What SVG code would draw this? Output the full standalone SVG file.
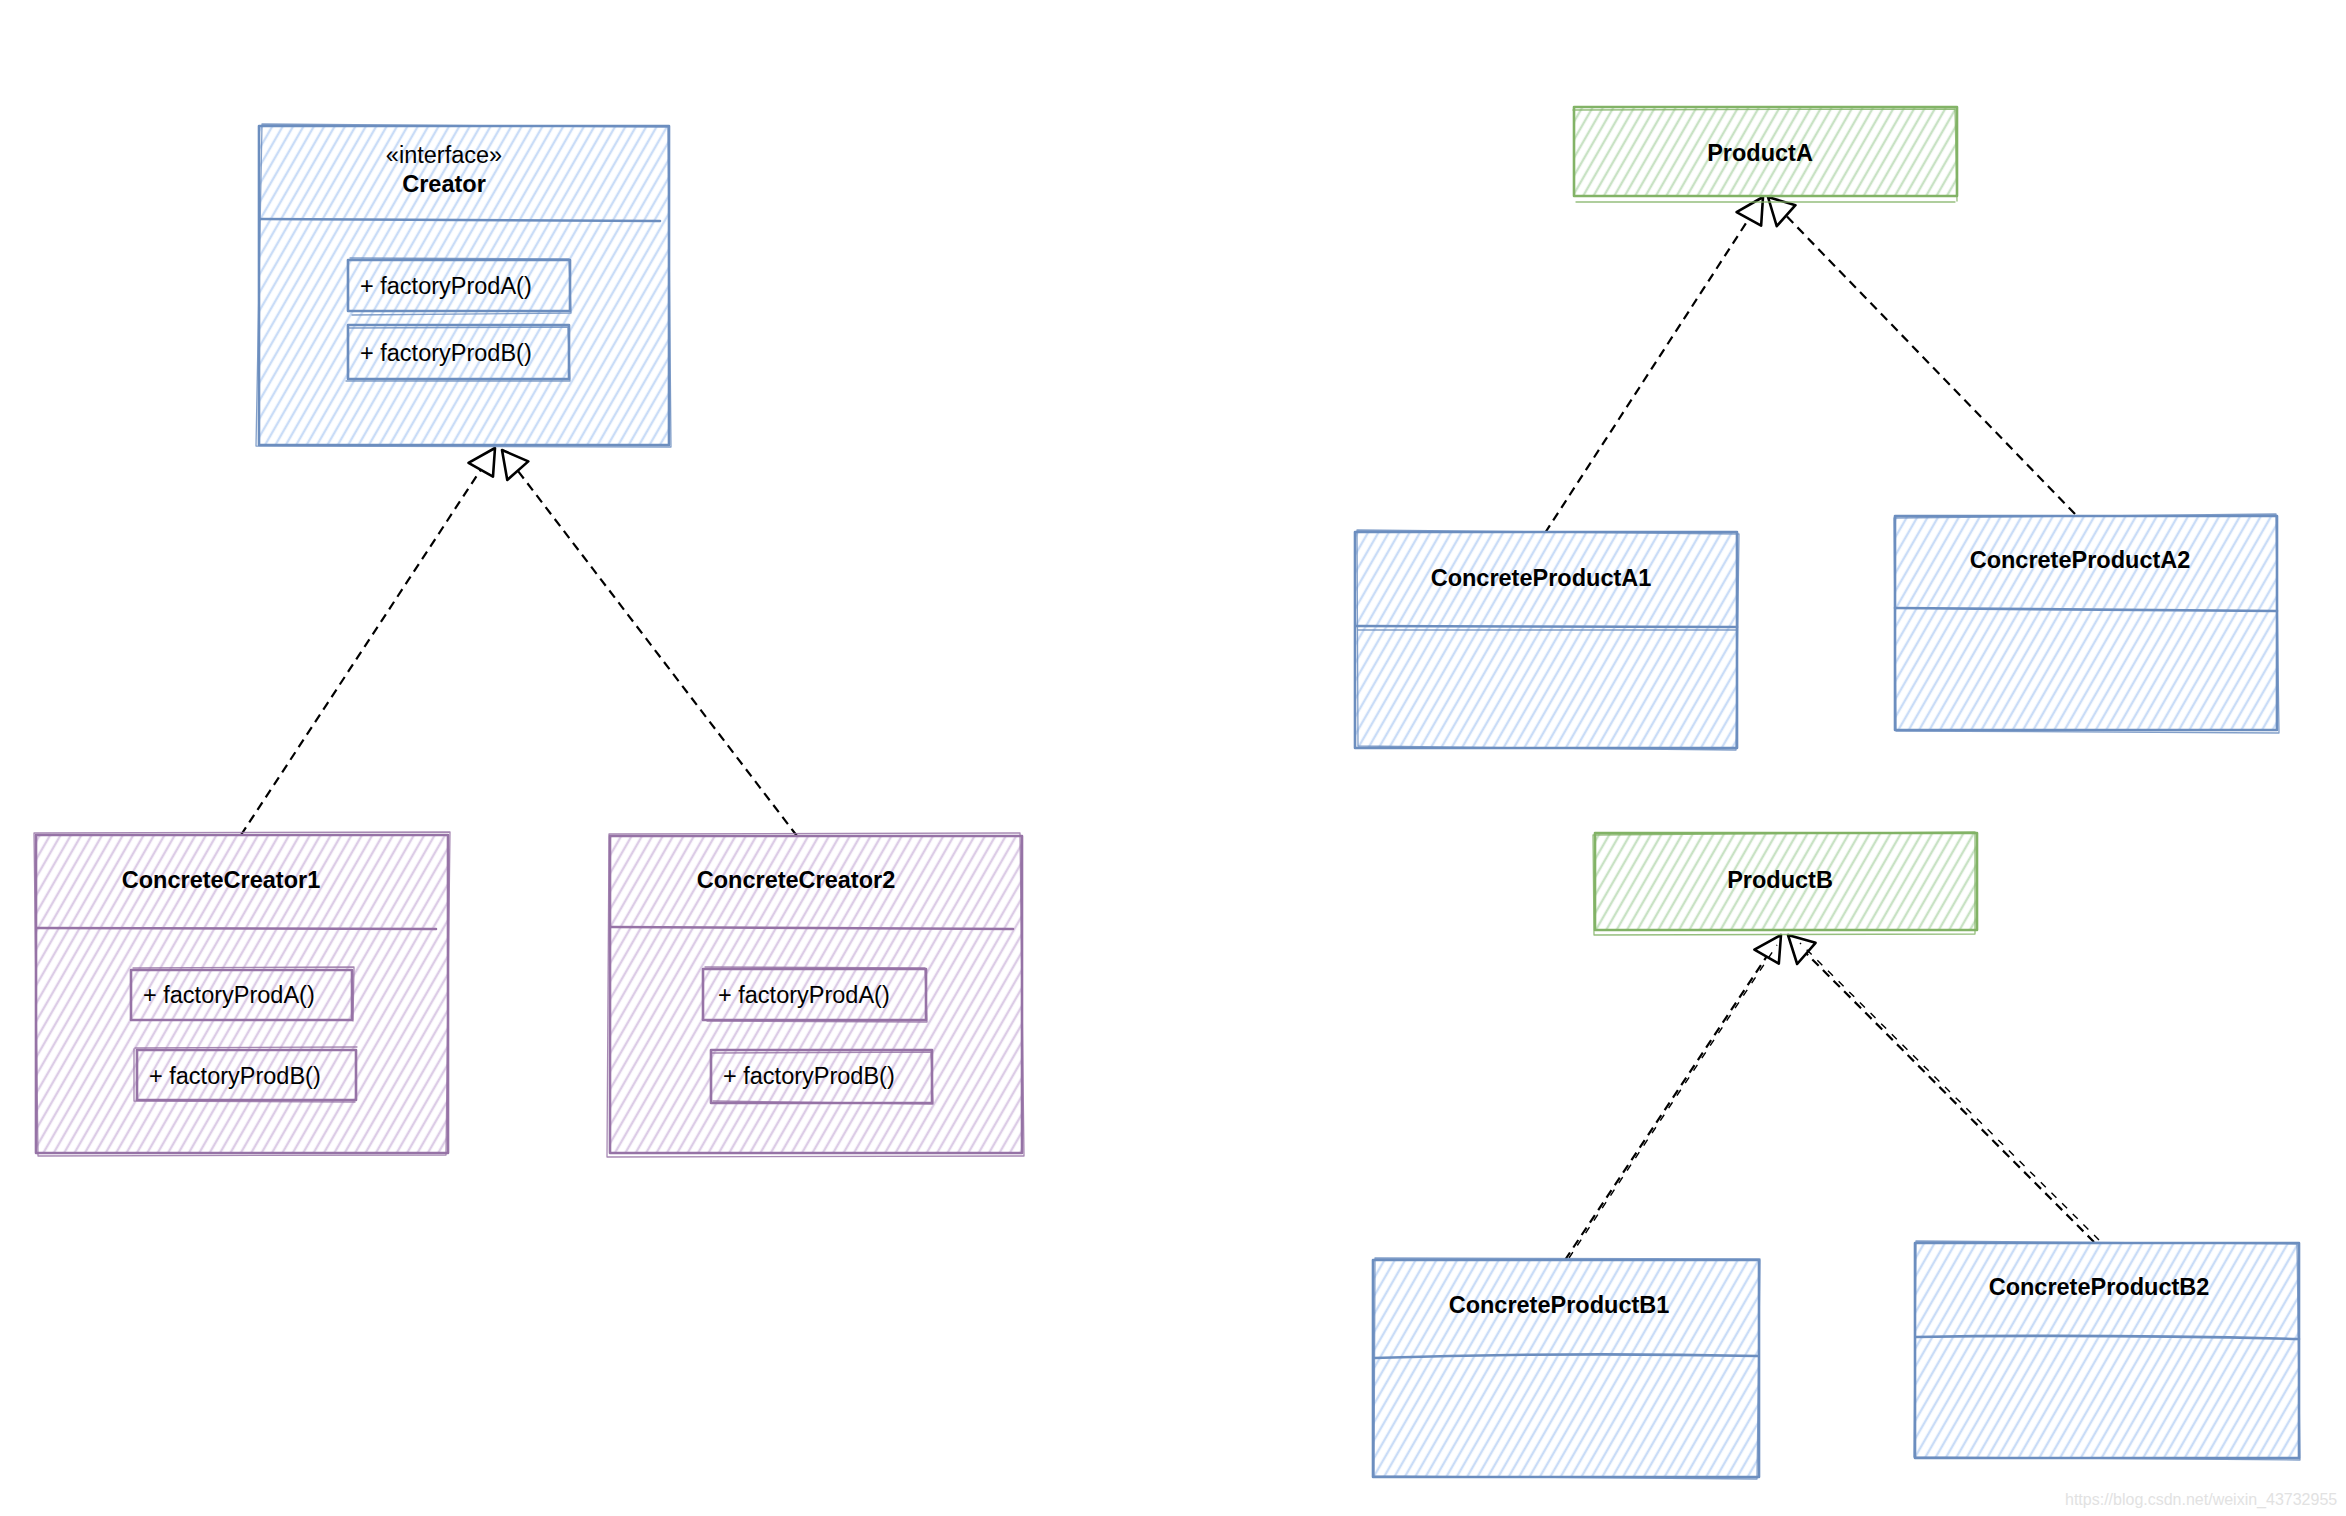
<svg xmlns="http://www.w3.org/2000/svg" width="2346" height="1516" viewBox="0 0 2346 1516">
<style>
.t{font-family:"Liberation Sans",Arial,Helvetica,sans-serif;font-size:23.5px;fill:#000}
.b{font-weight:bold}
.c{text-anchor:middle}
.sb{stroke:#6c8ebf;fill:none;stroke-width:2.6;stroke-linejoin:round;stroke-linecap:round}
.sp{stroke:#9673a6;fill:none;stroke-width:2.6;stroke-linejoin:round;stroke-linecap:round}
.sg{stroke:#82b366;fill:none;stroke-width:2.6;stroke-linejoin:round;stroke-linecap:round}
.s2{stroke-width:1.3;opacity:0.85}
.fb{fill:url(#hb)}
.fp{fill:url(#hp)}
.fg{fill:url(#hg)}
.edge{fill:none;stroke:#000;stroke-width:2.2;stroke-dasharray:9 6;marker-end:url(#tri)}
.edge2{fill:none;stroke:#000;stroke-width:1.4;stroke-dasharray:7 8}
.wm{font-family:"Liberation Sans",Arial,sans-serif;font-size:16px;fill:#e2e2e2}
</style>
<defs>
<pattern id="hb" width="9" height="9" patternUnits="userSpaceOnUse" patternTransform="rotate(30)">
<rect width="9" height="9" fill="#fff"/>
<line x1="2" y1="0" x2="2" y2="9" stroke="#c9dcf7" stroke-width="2.4"/>
</pattern>
<pattern id="hp" width="9" height="9" patternUnits="userSpaceOnUse" patternTransform="rotate(30)">
<rect width="9" height="9" fill="#fff"/>
<line x1="2" y1="0" x2="2" y2="9" stroke="#dccce6" stroke-width="2.4"/>
</pattern>
<pattern id="hg" width="9" height="9" patternUnits="userSpaceOnUse" patternTransform="rotate(30)">
<rect width="9" height="9" fill="#fff"/>
<line x1="2" y1="0" x2="2" y2="9" stroke="#c8e2c4" stroke-width="2.4"/>
</pattern>
<marker id="tri" markerUnits="userSpaceOnUse" viewBox="-32 -18 36 36" markerWidth="36" markerHeight="36" refX="0" refY="0" orient="auto">
<path d="M0,0 L-27,-14 L-25,14 Z" fill="#fff" stroke="#000" stroke-width="2.6" stroke-linejoin="round" stroke-dasharray="none"/>
</marker>
</defs>

<g id="connectors">
<path class="edge" d="M241,835 L495,448"/>
<path class="edge" d="M797,836 L502,450"/>
<path class="edge" d="M1545,533 L1763,197"/>
<path class="edge" d="M2075,514 L1768,197"/>
<path class="edge" d="M1565,1260 L1781,935"/>
<path class="edge" d="M2094,1242 L1788,935"/>
<path class="edge2" d="M1569,1258 L1777,945"/>
<path class="edge2" d="M2099,1240 L1800,943"/>
</g>

<g id="Creator">
<rect class="fb" x="259" y="126" width="410" height="319"/>
<rect class="sb" x="259" y="126" width="410" height="319"/>
<path class="sb s2" d="M262,124 L668,127 L671,447 L256,446 Z"/>
<path class="sb" d="M260,219 L660,221"/>
<text class="t c" x="444" y="163">«interface»</text>
<text class="t b c" x="444" y="192">Creator</text>
<g id="Creator-m1">
<rect class="fb" x="348" y="260" width="222" height="51"/>
<rect class="sb" x="348" y="260" width="222" height="51"/>
<path class="sb s2" d="M350,258 L569,259 L571,313 L352,315"/>
<text class="t" x="360" y="294">+ factoryProdA()</text>
</g>
<g id="Creator-m2">
<rect class="fb" x="348" y="325" width="221" height="54"/>
<rect class="sb" x="348" y="325" width="221" height="54"/>
<path class="sb s2" d="M349,328 L568,327 L570,381 L346,381"/>
<text class="t" x="360" y="361">+ factoryProdB()</text>
</g>
</g>

<g id="ConcreteCreator1">
<rect class="fp" x="36" y="835" width="412" height="318"/>
<rect class="sp" x="36" y="835" width="412" height="318"/>
<path class="sp s2" d="M34,833 L450,832 L446,1155 L38,1156 Z"/>
<path class="sp" d="M37,928 L436,929"/>
<text class="t b c" x="221" y="888">ConcreteCreator1</text>
<g id="CC1-m1">
<rect class="fp" x="131" y="970" width="221" height="50"/>
<rect class="sp" x="131" y="970" width="221" height="50"/>
<path class="sp s2" d="M133,968 L354,967 L353,1021"/>
<text class="t" x="143" y="1003">+ factoryProdA()</text>
</g>
<g id="CC1-m2">
<rect class="fp" x="137" y="1050" width="219" height="50"/>
<rect class="sp" x="137" y="1050" width="219" height="50"/>
<path class="sp s2" d="M134,1049 L134,1101 L355,1102 M135,1048 L357,1047"/>
<text class="t" x="149" y="1084">+ factoryProdB()</text>
</g>
</g>

<g id="ConcreteCreator2">
<rect class="fp" x="610" y="836" width="412" height="317"/>
<rect class="sp" x="610" y="836" width="412" height="317"/>
<path class="sp s2" d="M609,834 L1020,833 L1024,1156 L607,1157 Z"/>
<path class="sp" d="M611,927 L1013,929"/>
<text class="t b c" x="796" y="888">ConcreteCreator2</text>
<g id="CC2-m1">
<rect class="fp" x="703" y="969" width="223" height="51"/>
<rect class="sp" x="703" y="969" width="223" height="51"/>
<path class="sp s2" d="M705,967 L925,968 L927,1022 L707,1021"/>
<text class="t" x="718" y="1003">+ factoryProdA()</text>
</g>
<g id="CC2-m2">
<rect class="fp" x="711" y="1050" width="221" height="53"/>
<rect class="sp" x="711" y="1050" width="221" height="53"/>
<path class="sp s2" d="M712,1053 L931,1052 L933,1104 L713,1101"/>
<text class="t" x="723" y="1084">+ factoryProdB()</text>
</g>
</g>

<g id="ProductA">
<rect class="fg" x="1574" y="107" width="383" height="89"/>
<rect class="sg" x="1574" y="107" width="383" height="89"/>
<path class="sg s2" d="M1573,110 L1955,109 L1957,201 M1576,202 L1955,202"/>
<text class="t b c" x="1760" y="161">ProductA</text>
</g>

<g id="ConcreteProductA1">
<rect class="fb" x="1355" y="532" width="382" height="216"/>
<rect class="sb" x="1355" y="532" width="382" height="216"/>
<path class="sb s2" d="M1357,530 L1739,534 L1736,750 L1358,746 Z"/>
<path class="sb" d="M1356,626 L1737,627"/>
<path class="sb s2" d="M1358,630 L1736,630"/>
<text class="t b c" x="1541" y="586">ConcreteProductA1</text>
</g>

<g id="ConcreteProductA2">
<rect class="fb" x="1895" y="516" width="382" height="214"/>
<rect class="sb" x="1895" y="516" width="382" height="214"/>
<path class="sb s2" d="M1894,518 L2276,514 L2279,733 L1896,731 Z"/>
<path class="sb" d="M1895,608 L2277,611"/>
<text class="t b c" x="2080" y="568">ConcreteProductA2</text>
</g>

<g id="ProductB">
<rect class="fg" x="1595" y="833" width="382" height="97"/>
<rect class="sg" x="1595" y="833" width="382" height="97"/>
<path class="sg s2" d="M1593,835 L1975,832 L1975,934 L1594,935 Z"/>
<text class="t b c" x="1780" y="888">ProductB</text>
</g>

<g id="ConcreteProductB1">
<rect class="fb" x="1373" y="1260" width="386" height="217"/>
<rect class="sb" x="1373" y="1260" width="386" height="217"/>
<path class="sb s2" d="M1375,1258 L1760,1259 L1757,1479 L1374,1476 Z"/>
<path class="sb" d="M1374,1358 Q1560,1352 1758,1356"/>
<text class="t b c" x="1559" y="1313">ConcreteProductB1</text>
</g>

<g id="ConcreteProductB2">
<rect class="fb" x="1915" y="1243" width="384" height="215"/>
<rect class="sb" x="1915" y="1243" width="384" height="215"/>
<path class="sb s2" d="M1916,1241 L2297,1244 L2300,1460 L1914,1457 Z"/>
<path class="sb" d="M1916,1337 Q2100,1334 2299,1339"/>
<text class="t b c" x="2099" y="1295">ConcreteProductB2</text>
</g>

<text class="wm" x="2065" y="1505">https://blog.csdn.net/weixin_43732955</text>
</svg>
